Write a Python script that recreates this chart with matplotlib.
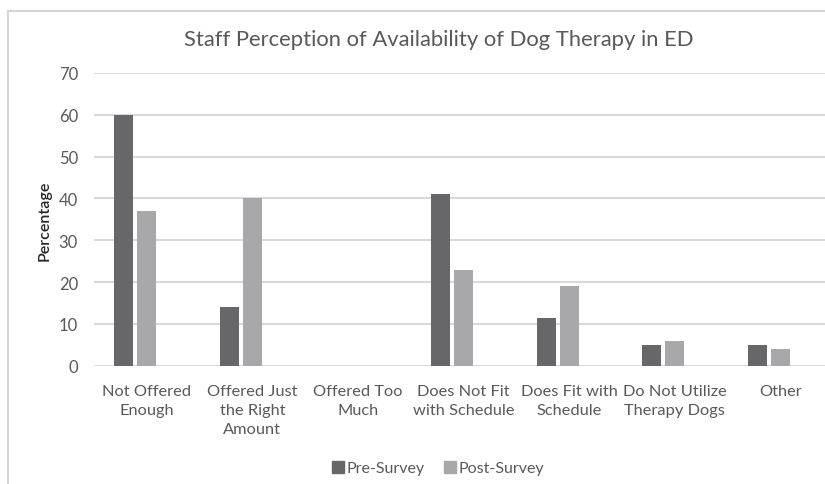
import matplotlib
matplotlib.use("Agg")
import matplotlib.pyplot as plt
import numpy as np
from matplotlib.lines import Line2D

plt.rcParams['font.family'] = ['Lato', 'DejaVu Sans']

categories = [
    "Not Offered\nEnough",
    "Offered Just\nthe Right\nAmount",
    "Offered Too\nMuch",
    "Does Not Fit\nwith Schedule",
    "Does Fit with\nSchedule",
    "Do Not Utilize\nTherapy Dogs",
    "Other",
]
pre_survey = [60, 14, 0, 41, 11.5, 5, 5]
post_survey = [37, 40, 0, 23, 19, 6, 4]
y_ticks = [0, 10, 20, 30, 40, 50, 60, 70]

text_col = "#595959"
pre_col = "#67676a"
post_col = "#a8a8aa"
grid_col = "#d9d9d9"

W, H = 825, 485
fig = plt.figure(figsize=(W / 100, H / 100), dpi=100)
fig.patch.set_facecolor("white")

ax = fig.add_axes([94 / W, 1 - 366.7 / H, 1 - 94 / W, (366.7 - 74) / H])
ax.set_facecolor("white")

x = np.arange(len(categories))
step = 0.218
bw = 0.178
ax.bar(x - step, pre_survey, width=bw, color=pre_col, label="Pre-Survey", zorder=3)
ax.bar(x, post_survey, width=bw, color=post_col, label="Post-Survey", zorder=3)

ax.set_ylim(0, 70)
ax.set_xlim(-0.5, -0.5 + (W - 94) / 105.6)
ax.set_yticks(y_ticks)
ax.set_xticks(x)
ax.set_xticklabels(categories, fontsize=11.8, color=text_col, linespacing=1.45)
ax.tick_params(axis="y", labelsize=12, colors=text_col, length=0, pad=11.5)
ax.tick_params(axis="x", length=0, pad=13.5)
ax.yaxis.grid(True, color=grid_col, linewidth=1.5, zorder=0)
for s in ax.spines.values():
    s.set_visible(False)

fig.text(45 / W, 1 - 221 / H, "Percentage", rotation=90, ha="center", va="center",
         fontsize=11.5, color="#262626", fontweight="semibold")

fig.text(439 / W, 1 - 40 / H, "Staff Perception of Availability of Dog Therapy in ED",
         ha="center", va="center", fontsize=15.8, color=text_col)

handles = [
    Line2D([], [], marker="s", linestyle="none", markersize=8.5, color=pre_col),
    Line2D([], [], marker="s", linestyle="none", markersize=8.5, color=post_col),
]
fig.legend(handles, ["Pre-Survey", "Post-Survey"], loc="center",
           bbox_to_anchor=(437 / W, 1 - 469 / H), ncol=2, frameon=False,
           fontsize=11.5, labelcolor=text_col, handletextpad=0.05,
           columnspacing=1.1, handlelength=1.0)

# chart frame edges
fig.add_artist(Line2D([8 / W, 8 / W], [0, 1 - 12 / H], transform=fig.transFigure,
                      color="#d4d4d4", linewidth=1.5))
fig.add_artist(Line2D([8 / W, 1], [1 - 12 / H, 1 - 12 / H], transform=fig.transFigure,
                      color="#d4d4d4", linewidth=1.5))

fig.savefig("out.png", dpi=100, facecolor="white")
